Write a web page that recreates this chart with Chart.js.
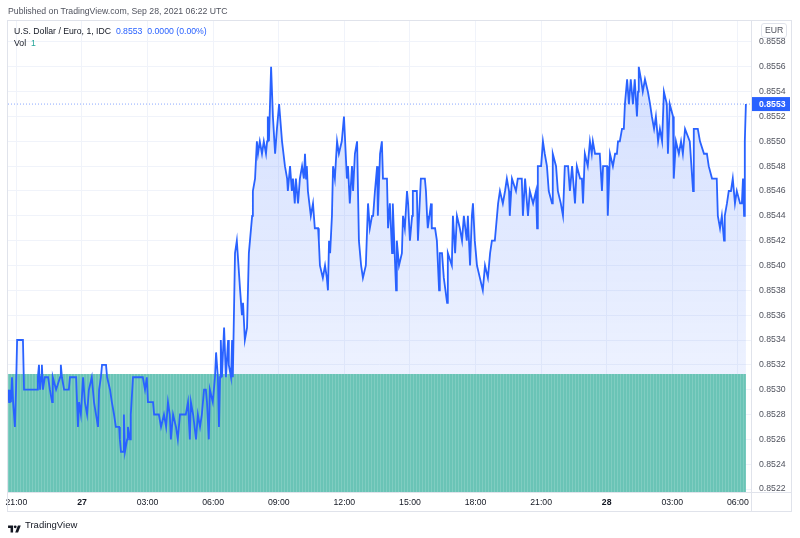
<!DOCTYPE html>
<html><head><meta charset="utf-8">
<script src="https://cdn.jsdelivr.net/npm/chart.js@4.4.0/dist/chart.umd.min.js"></script>
<style>
html,body{margin:0;padding:0;background:#fff;width:800px;height:538px;overflow:hidden;font-family:'Liberation Sans',Arial,sans-serif;}
#wrap{position:relative;width:800px;height:538px;}
#c{position:absolute;left:0;top:0;}
.t{position:absolute;white-space:nowrap;font-size:8.7px;line-height:11px;color:#131722;}
</style></head><body>
<div id="wrap">
<canvas id="c" width="800" height="538"></canvas>
<div class="t" style="left:8px;top:6px;color:#50535e">Published on TradingView.com, Sep 28, 2021 06:22 UTC</div>
<div class="t" style="left:14px;top:26px">U.S. Dollar / Euro, 1, IDC&nbsp;&nbsp;<span style="color:#2962ff">0.8553&nbsp;&nbsp;0.0000 (0.00%)</span></div>
<div class="t" style="left:14px;top:38px">Vol&nbsp;&nbsp;<span style="color:#26a69a">1</span></div>
<div class="t" style="left:761px;top:23px;border:1px solid #e0e3eb;border-radius:3px;padding:1px 3px;line-height:11px;color:#50535e">EUR</div>
<div style="position:absolute;left:8px;top:520px;">
<svg width="13" height="10" viewBox="0 0 36 28"><path d="M14 24H7V11H0V4h14v20zM28 24h-8l7.5-20h8L28 24z" fill="#131722"/><circle cx="20" cy="8" r="4" fill="#131722"/></svg>
</div>
<div class="t" style="left:25px;top:519px;font-size:9.5px;color:#131722">TradingView</div>
</div>
<script>
// ---- data (minutes since Sep 26 21:00 UTC, price EUR per USD) ----
const times = [
-23,-20,-18,-15,-12,-9,-4,-1,2,18,
21,57,59,62,65,68,70,73,78,87,
92,98,100,109,120,122,125,131,144,147,
164,169,172,177,183,188,194,199,207,213,
224,227,232,235,246,249,257,262,268,273,
282,284,287,293,295,298,304,306,312,314,
320,347,353,358,361,375,378,391,397,405,
411,416,421,424,430,438,443,449,465,471,
476,479,485,493,498,504,509,515,520,523,
528,531,539,545,548,553,556,559,561,564,
570,572,575,581,583,589,592,594,600,605,
614,619,622,627,633,638,647,649,655,660,
663,668,674,679,685,688,690,693,699,704,
710,715,721,729,737,743,745,751,756,759,
764,767,773,778,784,789,792,795,797,800,
808,814,819,828,830,833,841,847,852,855,
858,861,866,869,874,880,885,893,899,907,
910,915,921,924,929,935,940,946,951,959,
965,970,976,979,984,990,992,998,1003,1006,
1011,1017,1020,1025,1031,1033,1042,1044,1050,1058,
1061,1066,1072,1075,1080,1086,1088,1099,1102,1110,
1121,1124,1127,1129,1138,1140,1149,1154,1160,1162,
1168,1173,1182,1184,1195,1198,1204,1209,1217,1223,
1228,1236,1239,1245,1250,1253,1258,1264,1272,1280,
1286,1294,1300,1305,1313,1319,1322,1327,1335,1341,
1346,1352,1354,1360,1371,1376,1387,1390,1396,1404,
1409,1418,1426,1429,1431,1440,1445,1450,1456,1461,
1470,1472,1481,1486,1494,1500,1505,1514,1519,1525,
1533,1538,1547,1552,1555,1560,1568,1574,1579,1582,
1588,1601,1607,1610,1618,1621,1623,1629,1637,1643,
1648,1651,1656,1662,1667,1670,1676,1681,1686,1692,
1697,1703,1706,1708,1714,1719,1725,1733,1739,1744,
1750,1755,1761,1766,1772,1777,1785,1788,1793,1802,
1804,1810,1818,1824,1829,1835,1848,1857,1859,1870,
1876,1887,1895,1900,1909,1917,1922,1925,1931,1936,
1942,1944,1950,1955,1961,1966,1972,1977,1986,1991,
1994,1997,1999,2002];
const prices = [
0.8530,0.8529,0.8530,0.8529,0.8531,0.8529,0.8527,0.8530,0.8534,0.8534,
0.8530,0.8530,0.8531,0.8532,0.8530,0.8531,0.8532,0.8530,0.8531,0.8531,
0.8530,0.8529,0.8531,0.8530,0.8531,0.8532,0.8531,0.8530,0.8530,0.8531,
0.8531,0.8527,0.8529,0.8528,0.8531,0.8529,0.8528,0.8530,0.8531,0.8529,
0.8527,0.8530,0.8531,0.8532,0.8532,0.8531,0.8530,0.8529,0.8528,0.8527,
0.8527,0.8526,0.8525,0.8525,0.8528,0.8525,0.8526,0.8527,0.8526,0.8528,
0.8531,0.8531,0.8530,0.8531,0.8529,0.8529,0.8528,0.8528,0.8527,0.8528,
0.8527,0.8529,0.8528,0.8526,0.8528,0.8527,0.8526,0.8528,0.8528,0.8529,
0.8526,0.8529,0.8528,0.8526,0.8528,0.8527,0.8528,0.8530,0.8530,0.8529,
0.8526,0.8530,0.8529,0.8531,0.8533,0.8531,0.8527,0.8531,0.8534,0.8531,
0.8535,0.8535,0.8531,0.8534,0.8532,0.8531,0.8534,0.8531,0.8541,0.8542,
0.8538,0.8536,0.8537,0.8534,0.8535,0.8541,0.8544,0.8546,0.8547,0.8550,
0.8549,0.8550,0.8549,0.8550,0.8549,0.8550,0.8552,0.8550,0.8556,0.8552,
0.8549,0.8551,0.8553,0.8550,0.8548,0.8547,0.8546,0.8548,0.8546,0.8547,
0.8545,0.8547,0.8545,0.8547,0.8548,0.8547,0.8549,0.8547,0.8548,0.8546,
0.8544,0.8545,0.8543,0.8543,0.8542,0.8540,0.8539,0.8540,0.8539,0.8538,
0.8542,0.8541,0.8544,0.8548,0.8547,0.8550,0.8549,0.8550,0.8552,0.8547,
0.8548,0.8545,0.8548,0.8546,0.8549,0.8550,0.8542,0.8540,0.8539,0.8540,
0.8545,0.8543,0.8544,0.8544,0.8546,0.8548,0.8544,0.8549,0.8550,0.8547,
0.8547,0.8547,0.8543,0.8545,0.8541,0.8545,0.8538,0.8542,0.8540,0.8541,
0.8544,0.8543,0.8546,0.8545,0.8542,0.8544,0.8546,0.8546,0.8542,0.8547,
0.8547,0.8546,0.8544,0.8543,0.8545,0.8543,0.8543,0.8542,0.8538,0.8541,
0.8541,0.8539,0.8537,0.8541,0.8540,0.8544,0.8541,0.8544,0.8543,0.8542,
0.8544,0.8542,0.8544,0.8540,0.8544,0.8545,0.8542,0.8540,0.8539,0.8538,
0.8540,0.8539,0.8541,0.8542,0.8542,0.8544,0.8545,0.8546,0.8545,0.8546,
0.8547,0.8546,0.8544,0.8547,0.8546,0.8547,0.8547,0.8544,0.8547,0.8544,
0.8546,0.8545,0.8546,0.8543,0.8548,0.8548,0.8550,0.8549,0.8548,0.8546,
0.8545,0.8549,0.8548,0.8546,0.8545,0.8544,0.8548,0.8548,0.8546,0.8548,
0.8545,0.8548,0.8547,0.8547,0.8545,0.8549,0.8548,0.8550,0.8549,0.8550,
0.8549,0.8549,0.8546,0.8548,0.8548,0.8548,0.8544,0.8549,0.8548,0.8549,
0.8549,0.8550,0.8550,0.8551,0.8551,0.8553,0.8555,0.8553,0.8555,0.8553,
0.8555,0.8552,0.8554,0.8556,0.8555,0.8554,0.8555,0.8554,0.8553,0.8552,
0.8551,0.8552,0.8550,0.8551,0.8550,0.8554,0.8553,0.8549,0.8553,0.8552,
0.8547,0.8550,0.8549,0.8550,0.8549,0.8551,0.8550,0.8546,0.8551,0.8551,
0.8550,0.8549,0.8549,0.8548,0.8547,0.8547,0.8547,0.8544,0.8543,0.8544,
0.8542,0.8544,0.8545,0.8546,0.8546,0.8547,0.8545,0.8546,0.8545,0.8545,
0.8547,0.8544,0.8550,0.8553];
const volumeTimes = [-23, 2002];
const volumes = [1, 1];
const lastPrice = 0.8553;
const priceTicks = [0.8522,0.8524,0.8526,0.8528,0.8530,0.8532,0.8534,0.8536,0.8538,0.8540,0.8542,0.8544,0.8546,0.8548,0.8550,0.8552,0.8554,0.8556,0.8558];
const timeTicks = [0,180,360,540,720,900,1080,1260,1440,1620,1800,1980];
const timeLabels = ["21:00","27","03:00","06:00","09:00","12:00","15:00","18:00","21:00","28","03:00","06:00"];
const boldLabels = ["27","28"];
const xMin = -23, xMax = 2016, yMin = 0.852176, yMax = 0.855977;

if (times.length !== prices.length) console.error('length mismatch', times.length, prices.length);

const FONT = "'Liberation Sans', Arial, sans-serif";
Chart.defaults.font.family = FONT;
Chart.defaults.font.size = 8.7;
Chart.defaults.color = '#50535e';

const priceData = times.map((t, i) => ({x: t, y: prices[i]}));
const volData = volumeTimes.map((t, i) => ({x: t, y: volumes[i]}));
const lastLine = [{x: xMin, y: lastPrice}, {x: xMax, y: lastPrice}];

function stripePattern() {
  const c = document.createElement('canvas');
  c.width = 3; c.height = 1;
  const g = c.getContext('2d');
  g.fillStyle = '#6ac4b6'; g.fillRect(0, 0, 3, 1);
  g.fillStyle = '#80cdc1'; g.fillRect(2, 0, 1, 1);
  return g.createPattern(c, 'repeat');
}

const framePlugin = {
  id: 'frame',
  afterDraw(chart) {
    const {ctx, chartArea: a, scales} = chart;
    const yS = scales.y, xS = scales.x;
    ctx.save();
    ctx.strokeStyle = '#e0e3eb'; ctx.lineWidth = 1;
    const L = a.left - 1, T = a.top, R = a.right + yS.width, B = a.bottom + xS.height;
    ctx.strokeRect(L + 0.5, T + 0.5, R - L - 1, B - T - 1);
    ctx.beginPath();
    ctx.moveTo(Math.round(a.right) + 0.5, T); ctx.lineTo(Math.round(a.right) + 0.5, B);
    ctx.moveTo(L, Math.round(a.bottom) + 0.5); ctx.lineTo(R, Math.round(a.bottom) + 0.5);
    ctx.stroke();
    const y = yS.getPixelForValue(lastPrice);
    ctx.fillStyle = '#2962ff';
    ctx.fillRect(a.right + 1, y - 7, yS.width - 3, 14);
    ctx.fillStyle = '#ffffff';
    ctx.font = 'bold 8.7px ' + FONT;
    ctx.textBaseline = 'middle'; ctx.textAlign = 'left';
    ctx.fillText(lastPrice.toFixed(4), a.right + 8, y + 0.5);
    ctx.restore();
  }
};

new Chart(document.getElementById('c'), {
  type: 'line',
  data: {
    datasets: [
      { // volume
        data: volData, yAxisID: 'v', borderWidth: 0, pointRadius: 0,
        backgroundColor: stripePattern(), fill: 'start'
      },
      { // price
        data: priceData, yAxisID: 'y', borderColor: '#2962ff', borderWidth: 1.8,
        pointRadius: 0, tension: 0, fill: 'start',
        backgroundColor: (ctx) => {
          const {chart} = ctx; const a = chart.chartArea;
          if (!a) return 'rgba(41,98,255,0.1)';
          const g = chart.ctx.createLinearGradient(0, a.top, 0, a.bottom);
          g.addColorStop(0, 'rgba(41,98,255,0.22)');
          g.addColorStop(1, 'rgba(41,98,255,0.04)');
          return g;
        }
      },
      { // last price dotted line
        data: lastLine, yAxisID: 'y', borderColor: 'rgba(41,98,255,0.55)', borderWidth: 1,
        borderDash: [1, 2], pointRadius: 0, fill: false
      }
    ]
  },
  options: {
    responsive: false, animation: false, devicePixelRatio: 1,
    layout: {padding: {left: 8, top: 20, right: 8, bottom: 26}},
    plugins: {legend: {display: false}, tooltip: {enabled: false}, filler: {drawTime: 'beforeDatasetsDraw'}},
    scales: {
      x: {
        type: 'linear', min: xMin, max: xMax,
        grid: {color: '#f0f3fa', drawTicks: false}, border: {display: false},
        afterBuildTicks: (s) => { s.ticks = timeTicks.map(v => ({value: v})); },
        afterFit: (s) => { s.height = 20; s.paddingLeft = 0; s.paddingRight = 0; },
        ticks: {
          autoSkip: false, maxRotation: 0, minRotation: 0, padding: 5, color: '#131722',
          callback: (v) => timeLabels[timeTicks.indexOf(v)],
          font: (c) => ({family: FONT, size: 8.7, weight: (c.tick && boldLabels.includes(timeLabels[timeTicks.indexOf(c.tick.value)])) ? 'bold' : 'normal'})
        }
      },
      y: {
        type: 'linear', position: 'right', min: yMin, max: yMax,
        grid: {color: '#f0f3fa', drawTicks: false}, border: {display: false},
        afterBuildTicks: (s) => { s.ticks = priceTicks.map(v => ({value: v})); },
        afterFit: (s) => { s.width = 41; s.paddingTop = 0; s.paddingBottom = 0; },
        ticks: {padding: 8, color: '#50535e', callback: (v) => v.toFixed(4)}
      },
      v: {
        type: 'linear', display: false, min: 0, max: 4.0
      }
    }
  },
  plugins: [framePlugin]
});
</script>
</body></html>
